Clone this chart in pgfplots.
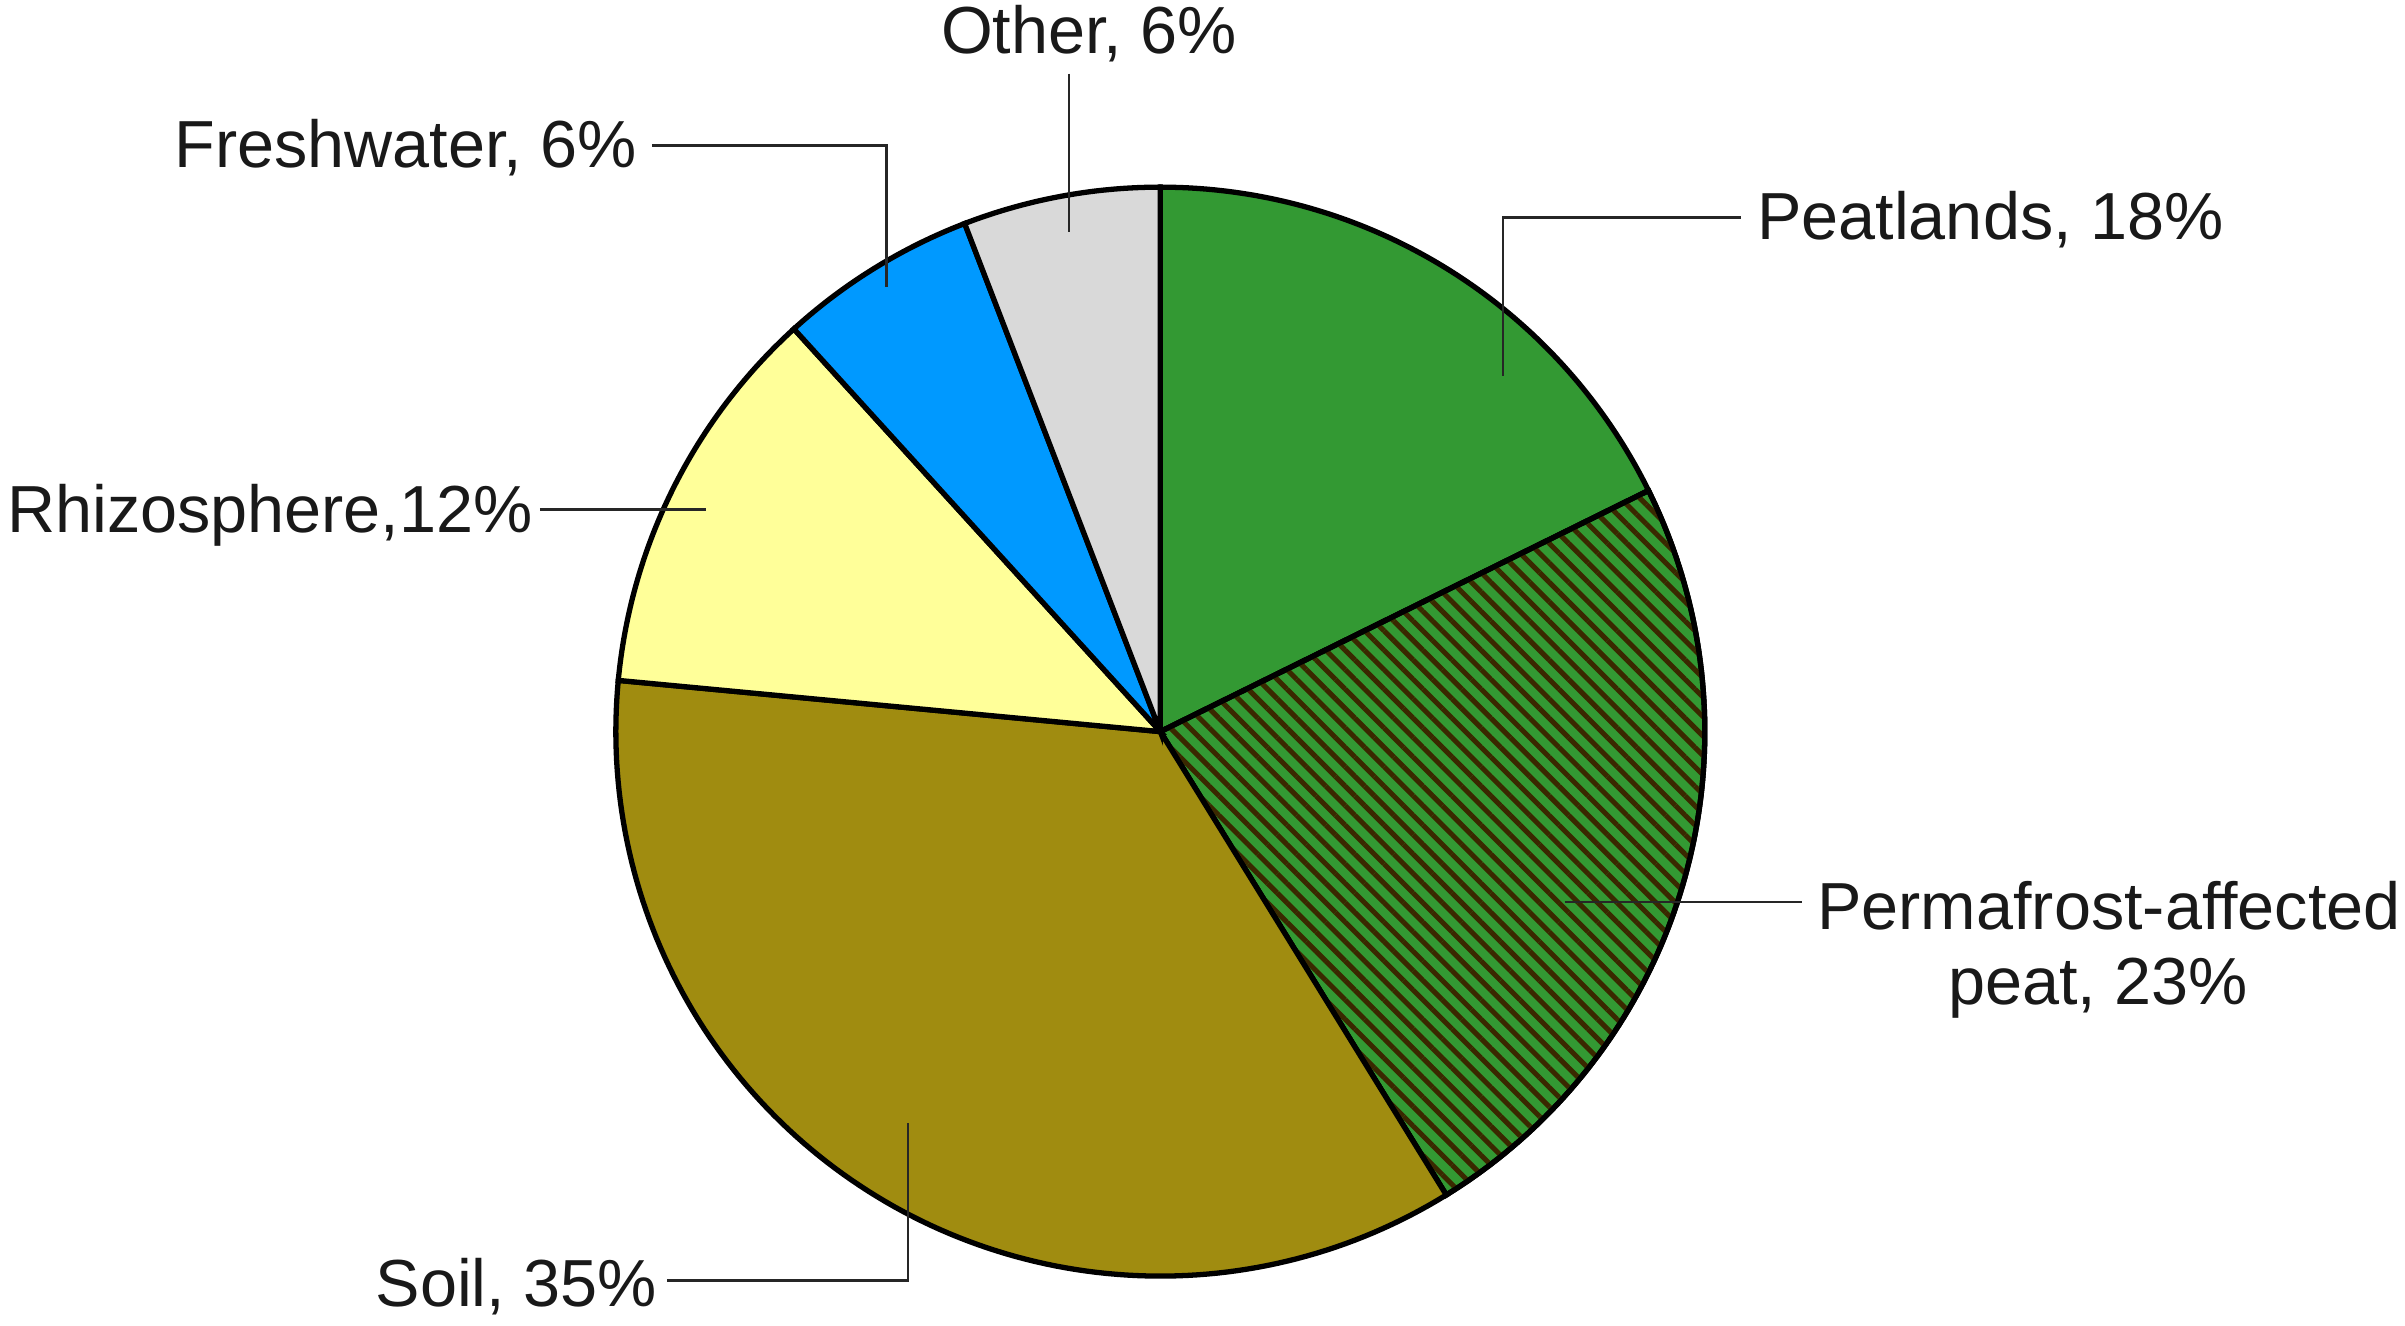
\documentclass[border=0pt]{standalone}
\usepackage{fontspec}
\setmainfont{Liberation Sans}
\usepackage{pgfplots}
\pgfplotsset{compat=1.18}
\usetikzlibrary{patterns.meta}
\definecolor{cPeat}{HTML}{339933}
\definecolor{cSoil}{HTML}{A08C10}
\definecolor{cRhiz}{HTML}{FFFF99}
\definecolor{cFresh}{HTML}{0099FF}
\definecolor{cOther}{HTML}{D9D9D9}
\definecolor{cStripe}{HTML}{3A2800}
% pie geometry (picture units)
\def\cx{756.5}\def\cy{387}\def\R{355}
% shares in percent (as drawn in the reference)
\def\pPeat{17.7}\def\pPerm{23.5}\def\pSoil{35.3}\def\pRhiz{11.75}\def\pFresh{5.9}\def\pOther{5.85}
\pgfmathsetmacro\aA{90}
\pgfmathsetmacro\aB{\aA-3.6*\pPeat}
\pgfmathsetmacro\aC{\aB-3.6*\pPerm}
\pgfmathsetmacro\aD{\aC-3.6*\pSoil}
\pgfmathsetmacro\aE{\aD-3.6*\pRhiz}
\pgfmathsetmacro\aF{\aE-3.6*\pFresh}
\pgfmathsetmacro\aG{\aF-3.6*\pOther}
\tikzset{lbl/.style={font=\fontsize{12.6}{15}\selectfont, inner sep=0pt, text=black!90}}
\begin{document}
\begin{tikzpicture}
\begin{axis}[hide axis, scale only axis, width=16cm, height=8.8163cm,
  xmin=0, xmax=1568, ymin=0, ymax=864, clip=false]
\addplot[draw=black, line width=1pt, fill=cPeat, domain=\aB:\aA, samples=90]
  ({\cx+\R*cos(x)},{\cy+\R*sin(x)}) -- (axis cs:\cx,\cy) -- cycle;
\addplot[draw=black, line width=1pt, preaction={fill=cPeat},
  pattern={Lines[angle=-45,distance=2.6pt,line width=0.95pt]}, pattern color=cStripe,
  domain=\aC:\aB, samples=90]
  ({\cx+\R*cos(x)},{\cy+\R*sin(x)}) -- (axis cs:\cx,\cy) -- cycle;
\addplot[draw=black, line width=1pt, fill=cSoil, domain=\aD:\aC, samples=120]
  ({\cx+\R*cos(x)},{\cy+\R*sin(x)}) -- (axis cs:\cx,\cy) -- cycle;
\addplot[draw=black, line width=1pt, fill=cRhiz, domain=\aE:\aD, samples=60]
  ({\cx+\R*cos(x)},{\cy+\R*sin(x)}) -- (axis cs:\cx,\cy) -- cycle;
\addplot[draw=black, line width=1pt, fill=cFresh, domain=\aF:\aE, samples=40]
  ({\cx+\R*cos(x)},{\cy+\R*sin(x)}) -- (axis cs:\cx,\cy) -- cycle;
\addplot[draw=black, line width=1pt, fill=cOther, domain=\aG:\aF, samples=40]
  ({\cx+\R*cos(x)},{\cy+\R*sin(x)}) -- (axis cs:\cx,\cy) -- cycle;
% leader lines
\addplot[black!85, line width=0.5pt] coordinates {(697,816) (697,713)};
\addplot[black!85, line width=0.5pt] coordinates {(425,769) (578,769) (578,677)};
\addplot[black!85, line width=0.5pt] coordinates {(1135,722) (980,722) (980,619)};
\addplot[black!85, line width=0.5pt] coordinates {(352,532) (460,532)};
\addplot[black!85, line width=0.5pt] coordinates {(1020,276) (1175,276)};
\addplot[black!85, line width=0.5pt] coordinates {(435,29) (592,29) (592,132)};
% labels
\node[lbl, anchor=base] at (axis cs:710,829) {Other, 6\%};
\node[lbl, anchor=base east] at (axis cs:416,755) {Freshwater, 6\%};
\node[lbl, anchor=base west] at (axis cs:1145,708) {Peatlands, 18\%};
\node[lbl, anchor=base east] at (axis cs:348,517) {Rhizosphere,12\%};
\node[lbl, anchor=base] at (axis cs:1375,258) {Permafrost-affected};
\node[lbl, anchor=base] at (axis cs:1368,209) {peat, 23\%};
\node[lbl, anchor=base east] at (axis cs:429,12) {Soil, 35\%};
\end{axis}
\pgfresetboundingbox
\path (current axis.south west) rectangle (current axis.north east);
\end{tikzpicture}
\end{document}
